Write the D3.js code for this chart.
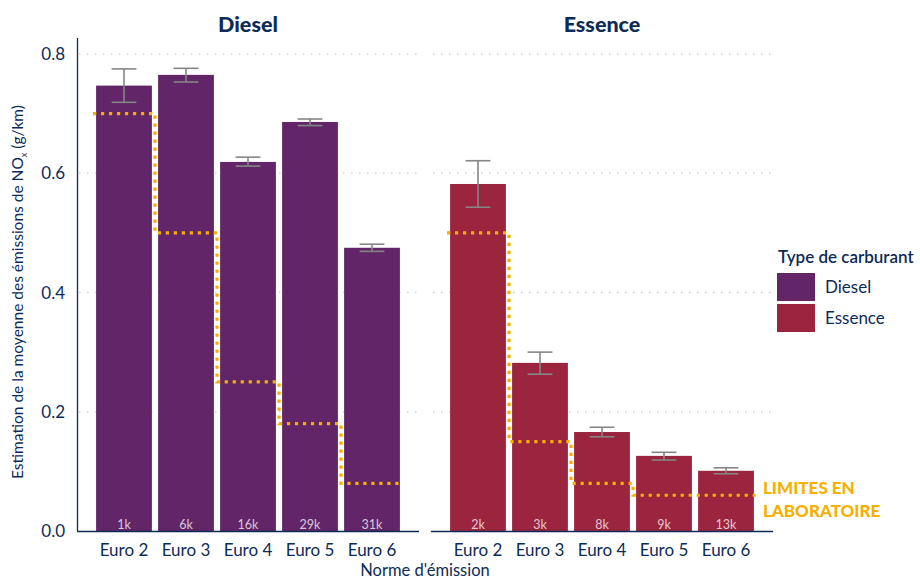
<!DOCTYPE html>
<html><head><meta charset="utf-8">
<script src="https://cdn.jsdelivr.net/npm/d3@7"></script>
<style>body{margin:0;background:#fff}svg{display:block;font-family:Lato,"Open Sans",sans-serif}</style>
</head><body><svg id="c" width="920" height="581"></svg>
<script>
const categories = ["Euro 2","Euro 3","Euro 4","Euro 5","Euro 6"];
const fuels = ["Diesel","Essence"];
const dieselMean = [0.747, 0.765, 0.619, 0.686, 0.475];
const dieselLow  = [0.719, 0.753, 0.612, 0.680, 0.469];
const dieselHigh = [0.775, 0.776, 0.627, 0.691, 0.481];
const dieselCount = ["1k","6k","16k","29k","31k"];
const dieselLimit = [0.70, 0.50, 0.25, 0.18, 0.08];
const essenceMean = [0.582, 0.282, 0.166, 0.126, 0.101];
const essenceLow  = [0.543, 0.263, 0.158, 0.119, 0.096];
const essenceHigh = [0.621, 0.300, 0.174, 0.132, 0.106];
const essenceCount = ["2k","3k","8k","9k","13k"];
const essenceLimit = [0.50, 0.15, 0.08, 0.06, 0.06];
const yTicks = [0, 0.2, 0.4, 0.6, 0.8];

const colors = {Diesel:"#622567", Essence:"#9b243e"};
const navy = "#0d2b57", gold = "#f5b000";
const svg = d3.select("#c");
const y = d3.scaleLinear().domain([0,0.8]).range([531,54]);
const panels = [
  {name:"Diesel", x0:77, x1:419, mean:dieselMean, lo:dieselLow, hi:dieselHigh, n:dieselCount, lim:dieselLimit},
  {name:"Essence", x0:431, x1:773, mean:essenceMean, lo:essenceLow, hi:essenceHigh, n:essenceCount, lim:essenceLimit}
];

panels.forEach(p=>{
  const x = d3.scaleBand().domain(categories).range([p.x0,p.x1]).paddingInner(0.1).paddingOuter(0.308);
  const g = svg.append("g");
  g.selectAll(".grid").data(yTicks.slice(1)).join("line")
    .attr("x1",p.x0+2).attr("x2",p.x1).attr("y1",d=>y(d)).attr("y2",d=>y(d))
    .attr("stroke","#d2d2d2").attr("stroke-width",1.5).attr("stroke-dasharray","1.5 6.5");
  const data = categories.map((c,i)=>({c, m:p.mean[i], lo:p.lo[i], hi:p.hi[i], n:p.n[i], lim:p.lim[i]}));
  g.selectAll(".bar").data(data).join("rect")
    .attr("x",d=>x(d.c)).attr("width",x.bandwidth())
    .attr("y",d=>y(d.m)).attr("height",d=>y(0)-y(d.m)).attr("fill",colors[p.name]);
  const cap = x.step()*0.2;
  const eb = g.selectAll(".eb").data(data).join("g").attr("stroke","#858585").attr("stroke-width",1.6);
  eb.append("line").attr("x1",d=>x(d.c)+x.bandwidth()/2).attr("x2",d=>x(d.c)+x.bandwidth()/2)
    .attr("y1",d=>y(d.lo)).attr("y2",d=>y(d.hi));
  eb.append("line").attr("x1",d=>x(d.c)+x.bandwidth()/2-cap).attr("x2",d=>x(d.c)+x.bandwidth()/2+cap)
    .attr("y1",d=>y(d.lo)).attr("y2",d=>y(d.lo));
  eb.append("line").attr("x1",d=>x(d.c)+x.bandwidth()/2-cap).attr("x2",d=>x(d.c)+x.bandwidth()/2+cap)
    .attr("y1",d=>y(d.hi)).attr("y2",d=>y(d.hi));
  g.selectAll(".cnt").data(data).join("text")
    .attr("x",d=>x(d.c)+x.bandwidth()/2).attr("y",529).attr("text-anchor","middle")
    .attr("font-size",12.5).attr("fill","#ffffff").attr("fill-opacity",0.75).text(d=>d.n);
  const pts = [];
  data.forEach(d=>{
    const cx = x(d.c)+x.bandwidth()/2;
    pts.push([cx-x.step()/2, y(d.lim)]);
    pts.push([cx+x.step()/2, y(d.lim)]);
  });
  g.append("path").attr("d",d3.line()(pts)).attr("fill","none").attr("stroke",gold)
    .attr("stroke-width",3.2).attr("stroke-dasharray","3.2 4.8");
  g.append("line").attr("x1",p.x0).attr("x2",p.x1).attr("y1",531.5).attr("y2",531.5)
    .attr("stroke",navy).attr("stroke-width",1.3);
  g.selectAll(".xt").data(categories).join("text")
    .attr("x",d=>x(d)+x.bandwidth()/2).attr("y",556).attr("text-anchor","middle")
    .attr("font-size",17).attr("fill",navy).text(d=>d);
  g.append("text").attr("x",(p.x0+p.x1)/2).attr("y",32).attr("text-anchor","middle")
    .attr("font-size",21.5).attr("font-weight",900).attr("fill",navy).text(p.name);
});

svg.append("line").attr("x1",77.5).attr("x2",77.5).attr("y1",38).attr("y2",531.5).attr("stroke",navy).attr("stroke-width",1.3);
svg.selectAll(".yt").data(yTicks).join("text")
  .attr("x",65).attr("y",d=>y(d)).attr("dy","0.36em").attr("text-anchor","end")
  .attr("font-size",17).attr("fill",navy).text(d=>d3.format(".1f")(d));
const yl = svg.append("text").attr("transform","translate(23,292) rotate(-90)").attr("text-anchor","middle")
  .attr("font-size",15.5).attr("fill",navy);
yl.append("tspan").text("Estimation de la moyenne des émissions de NO");
yl.append("tspan").attr("font-size",9).attr("dy",4).text("x");
yl.append("tspan").attr("dy",-4).text(" (g/km)");
svg.append("text").attr("x",425).attr("y",576).attr("text-anchor","middle").attr("font-size",16.5).attr("fill",navy).text("Norme d'émission");

svg.append("text").attr("x",778).attr("y",263).attr("font-size",17).attr("font-weight",600).attr("fill",navy).text("Type de carburant");
const lg = svg.selectAll(".lg").data(fuels).join("g").attr("transform",(d,i)=>`translate(777,${273+i*31})`);
lg.append("rect").attr("width",38).attr("height",28).attr("fill",d=>colors[d]);
lg.append("text").attr("x",48).attr("y",20).attr("font-size",17).attr("fill",navy).text(d=>d);

const ann = svg.append("text").attr("font-size",17).attr("font-weight",900).attr("fill",gold);
ann.append("tspan").attr("x",763).attr("y",494).text("LIMITES EN");
ann.append("tspan").attr("x",763).attr("y",517).text("LABORATOIRE");
</script></body></html>
